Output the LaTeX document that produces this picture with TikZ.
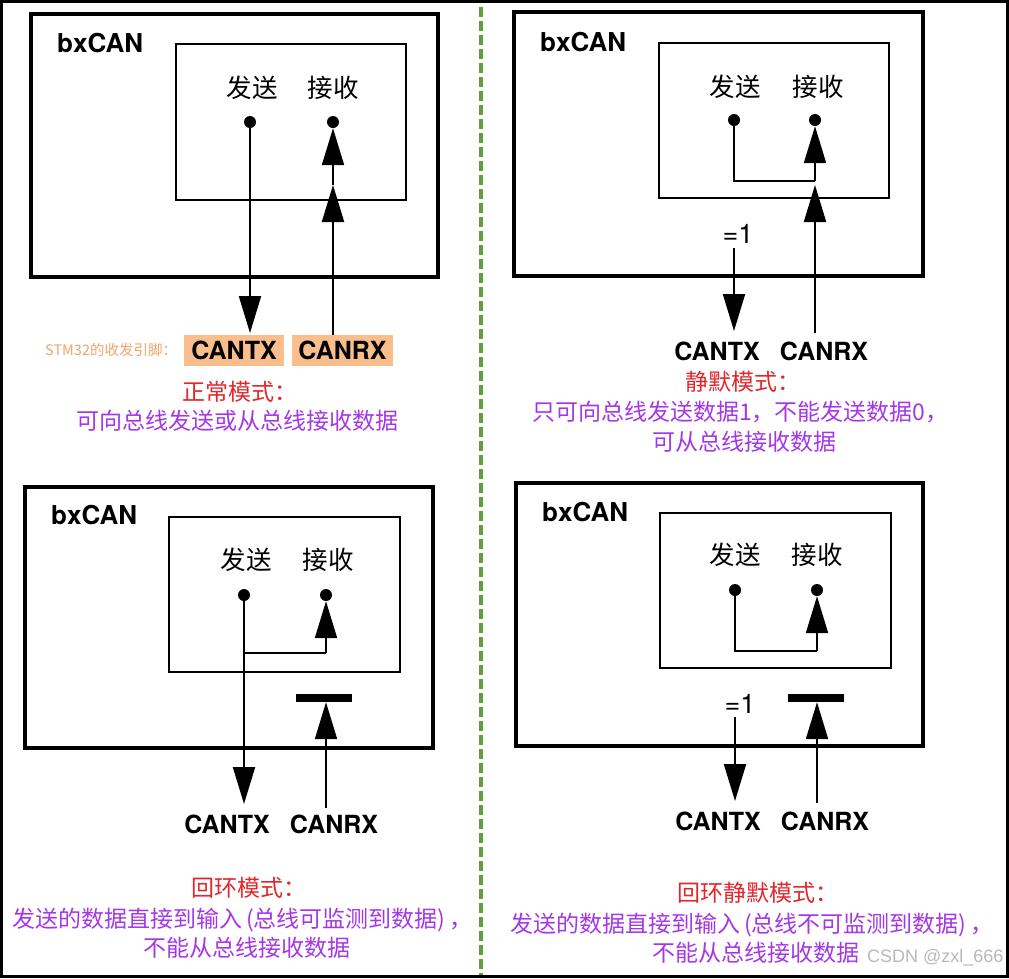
\documentclass[tikz,border=0pt]{standalone}
\usepackage{fontspec}
\usetikzlibrary{arrows.meta}
\newfontfamily\hel{TeX Gyre Heros}
\newfontfamily\cjk{Noto Sans CJK SC}
\newfontfamily\wmfont{Liberation Sans}
\definecolor{ttlred}{RGB}{226,38,42}
\definecolor{descpur}{RGB}{165,55,230}
\definecolor{pinbg}{RGB}{250,190,140}
\definecolor{pinlbl}{RGB}{240,165,105}
\definecolor{sepgreen}{RGB}{95,160,60}
\definecolor{wmgray}{RGB}{185,185,185}
\begin{document}
\begin{tikzpicture}[x=1pt,y=-1pt,
  outerbox/.style={draw,rectangle,line width=4pt,inner sep=0pt,outer sep=0pt},
  innerbox/.style={draw,rectangle,line width=1.8pt,inner sep=0pt,outer sep=0pt},
  chiplbl/.style={font=\hel\bfseries\fontsize{26}{26}\selectfont,inner sep=0pt,anchor=west},
  portlbl/.style={font=\cjk\fontsize{25.5}{25.5}\selectfont,inner sep=0pt},
  pinlabel/.style={font=\hel\bfseries\fontsize{25}{25}\selectfont,inner sep=0pt},
  eqlbl/.style={font=\hel\fontsize{27}{27}\selectfont,inner sep=0pt},
  dotn/.style={circle,fill=black,inner sep=0pt,minimum size=12pt},
  wire/.style={line width=2pt},
  arr/.style={line width=2pt,-{Triangle[length=37pt,width=22pt]}},
  blockbar/.style={rectangle,fill=black,inner sep=0pt,minimum width=56pt,minimum height=8pt},
  ttl/.style={font=\cjk\fontsize{23}{23}\selectfont,text=ttlred,inner sep=0pt,anchor=west},
  desc/.style={font=\cjk\fontsize{23}{23}\selectfont,text=descpur,inner sep=0pt,anchor=west}
]
\useasboundingbox (0,0) rectangle (1009,978);
\fill[white] (0,0) rectangle (1009,978);
\draw[line width=3pt] (1.5,1.5) rectangle (1007.5,976.5);
\coordinate (sepT) at (481,7);
\coordinate (sepB) at (481,975);
\draw[sepgreen,line width=3.5pt,dash pattern=on 10pt off 4pt] (sepT) -- (sepB);

% ---------------- Panel 1: normal mode
\node[outerbox,minimum width=407pt,minimum height=263pt] (o1) at (234.5,145.5) {};
\node[innerbox,minimum width=230pt,minimum height=156pt] (i1) at (291,122) {};
\node[chiplbl] (b1) at (57,43) {bxCAN};
\node[portlbl] (s1) at (252,88) {发送};
\node[portlbl] (r1) at (333,88) {接收};
\node[pinlabel,fill=pinbg,minimum width=100pt,minimum height=31pt] (tx1) at (234,350.5) {CANTX};
\node[pinlabel,fill=pinbg,minimum width=101pt,minimum height=31pt] (rx1) at (342.5,350.5) {CANRX};
\node[font=\cjk\fontsize{14.5}{14.5}\selectfont,text=pinlbl,inner sep=0pt,anchor=west] (stm) at (45,350) {STM32的收发引脚：};
\coordinate (t1e) at (250,333);
\coordinate (r1s) at (333,335);
\coordinate (r1m) at (333,185);
\node[dotn] (d1t) at (250,122) {};
\node[dotn] (d1r) at (333,122) {};
\draw[arr] (d1t.center) -- (t1e);
\draw[arr] (r1s) -- (r1m);
\draw[arr] (r1m) -- (d1r.south);
\node[ttl] (m1) at (182,392) {正常模式：};
\node[desc] (m1a) at (76,421) {可向总线发送或从总线接收数据};

% ---------------- Panel 2: silent mode
\node[outerbox,minimum width=409pt,minimum height=264pt] (o2) at (718.5,144) {};
\node[innerbox,minimum width=230pt,minimum height=155pt] (i2) at (774,120.5) {};
\node[chiplbl] (b2) at (540,42) {bxCAN};
\node[portlbl] (s2) at (735,87) {发送};
\node[portlbl] (r2) at (818,87) {接收};
\node[dotn] (d2t) at (734,120) {};
\node[dotn] (d2r) at (815,120) {};
\coordinate (j2) at (815,181);
\draw[wire] (d2t.center) |- (j2);
\draw[arr] (j2) -- (d2r.south);
\coordinate (r2s) at (815,333);
\coordinate (r2m) at (815,185);
\draw[arr] (r2s) -- (r2m);
\node[eqlbl] (e2) at (738,234) {=1};
\coordinate (t2s) at (734,248);
\coordinate (t2e) at (734,331);
\draw[arr] (t2s) -- (t2e);
\node[pinlabel] (tx2) at (717,351) {CANTX};
\node[pinlabel] (rx2) at (824,351) {CANRX};
\node[ttl] (m2) at (685,382) {静默模式：};
\node[desc] (m2a) at (532,412) {只可向总线发送数据1，不能发送数据0，};
\node[desc] (m2b) at (652,442) {可从总线接收数据};

% ---------------- Panel 3: loopback mode
\node[outerbox,minimum width=408pt,minimum height=261pt] (o3) at (229,617.5) {};
\node[innerbox,minimum width=231pt,minimum height=155pt] (i3) at (284.5,594.5) {};
\node[chiplbl] (b3) at (51,515) {bxCAN};
\node[portlbl] (s3) at (246,560) {发送};
\node[portlbl] (r3) at (328,560) {接收};
\node[dotn] (d3t) at (244,595) {};
\node[dotn] (d3r) at (326,595) {};
\coordinate (t3e) at (244,804);
\draw[arr] (d3t.center) -- (t3e);
\coordinate (k3) at (244,653);
\coordinate (j3) at (326,653);
\draw[wire] (k3) -- (j3);
\draw[arr] (j3) -- (d3r.south);
\node[blockbar] (bar3) at (323.5,698) {};
\coordinate (r3s) at (326,808);
\draw[arr] (r3s) -- (bar3.south -| r3s);
\node[pinlabel] (tx3) at (227,824) {CANTX};
\node[pinlabel] (rx3) at (334,824) {CANRX};
\node[ttl] (m3) at (191,888) {回环模式：};
\node[desc] (m3a) at (12,920) {发送的数据直接到输入\hspace{4pt}(总线可监测到数据)\hspace{4pt}，};
\node[desc] (m3b) at (143,948) {不能从总线接收数据};

% ---------------- Panel 4: loopback + silent mode
\node[outerbox,minimum width=407pt,minimum height=263pt] (o4) at (719.5,614.5) {};
\node[innerbox,minimum width=231pt,minimum height=155pt] (i4) at (775.5,590.5) {};
\node[chiplbl] (b4) at (542,512) {bxCAN};
\node[portlbl] (s4) at (735,555) {发送};
\node[portlbl] (r4) at (817,555) {接收};
\node[dotn] (d4t) at (735,590) {};
\node[dotn] (d4r) at (817,590) {};
\coordinate (j4) at (817,651);
\draw[wire] (d4t.center) |- (j4);
\draw[arr] (j4) -- (d4r.south);
\node[eqlbl] (e4) at (740,704) {=1};
\coordinate (t4s) at (735,717);
\coordinate (t4e) at (735,801);
\draw[arr] (t4s) -- (t4e);
\node[blockbar] (bar4) at (816,698) {};
\coordinate (r4s) at (817,803);
\draw[arr] (r4s) -- (bar4.south -| r4s);
\node[pinlabel] (tx4) at (718,821) {CANTX};
\node[pinlabel] (rx4) at (825,821) {CANRX};
\node[ttl] (m4) at (677,893) {回环静默模式：};
\node[desc] (m4a) at (510,925) {发送的数据直接到输入\hspace{4pt}(总线不可监测到数据)\hspace{4pt}，};
\node[desc] (m4b) at (652,953) {不能从总线接收数据};
\node[font=\wmfont\fontsize{18}{18}\selectfont,text=wmgray,inner sep=0pt,anchor=west] (wm) at (867,958) {CSDN @zxl\_666};
\end{tikzpicture}
\end{document}
